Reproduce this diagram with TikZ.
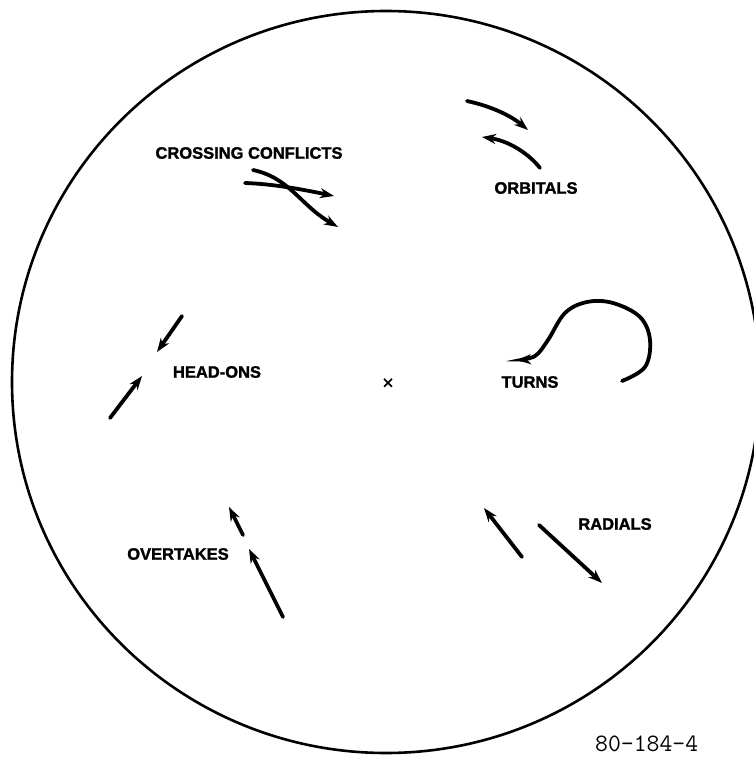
\documentclass[tikz,border=0pt]{standalone}
\usepackage{fontspec}
\setmainfont{Liberation Sans}[BoldFeatures={FakeBold=1.6}]
\newfontfamily\crossfont{DejaVu Sans}[FakeBold=2.5]
\usetikzlibrary{arrows.meta}
\tikzset{
  lbl/.style={font=\fontsize{16.5}{18}\selectfont\bfseries, inner sep=0pt},
  arr/.style={line width=3.8pt, line cap=round, -{Stealth[length=14pt,width=10pt]}},
  ring/.style={line width=2.6pt},
}
\begin{document}
\begin{tikzpicture}[x=1pt,y=-1pt]
\useasboundingbox (0,0) rectangle (754,757);
\clip (0,0) rectangle (754,757);
\draw[ring] (386,382) ellipse [x radius=374, y radius=371];
% labels
\node[lbl] (cc) at (249,153) {CROSSING CONFLICTS};
\node[lbl] (orb) at (536,188) {ORBITALS};
\node[lbl] (ho) at (217,372) {HEAD-ONS};
\node[lbl] (tu) at (530,382) {TURNS};
\node[lbl] (ov) at (178,554) {OVERTAKES};
\node[lbl] (ra) at (615,524) {RADIALS};
\node[font=\crossfont\fontsize{15}{15}\selectfont, inner sep=0pt] (ctr) at (388,383) {×};
\node[font=\ttfamily\fontsize{25}{25}\selectfont, anchor=base west, inner sep=0pt] (id) at (595,751) {80-184-4};
% crossing conflicts
\draw[arr] (245,183) .. controls (275,184) and (305,190) .. (334,196);
\draw[arr] (253,170) .. controls (290,178) and (300,205) .. (338,227);
% orbitals
\draw[arr] (467,101) .. controls (490,106) and (510,115) .. (528,130);
\draw[arr] (540,168) .. controls (530,155) and (510,141) .. (482,137);
% head-ons
\draw[arr] (182,316) -- (157,352);
\draw[arr] (110,418) -- (142,376);
% turns
\draw[arr] plot[smooth, tension=0.6] coordinates {(622,381) (645,367) (650,340) (640,317) (613,303) (587,302) (565,313) (548,340) (535,356) (517,360)};
% overtakes
\draw[arr] (243,535) -- (229,507);
\draw[arr] (283,617) -- (249,549);
% radials
\draw[arr] (522,557) -- (484,508);
\draw[arr] (539,525) -- (602,583);
\end{tikzpicture}
\end{document}
